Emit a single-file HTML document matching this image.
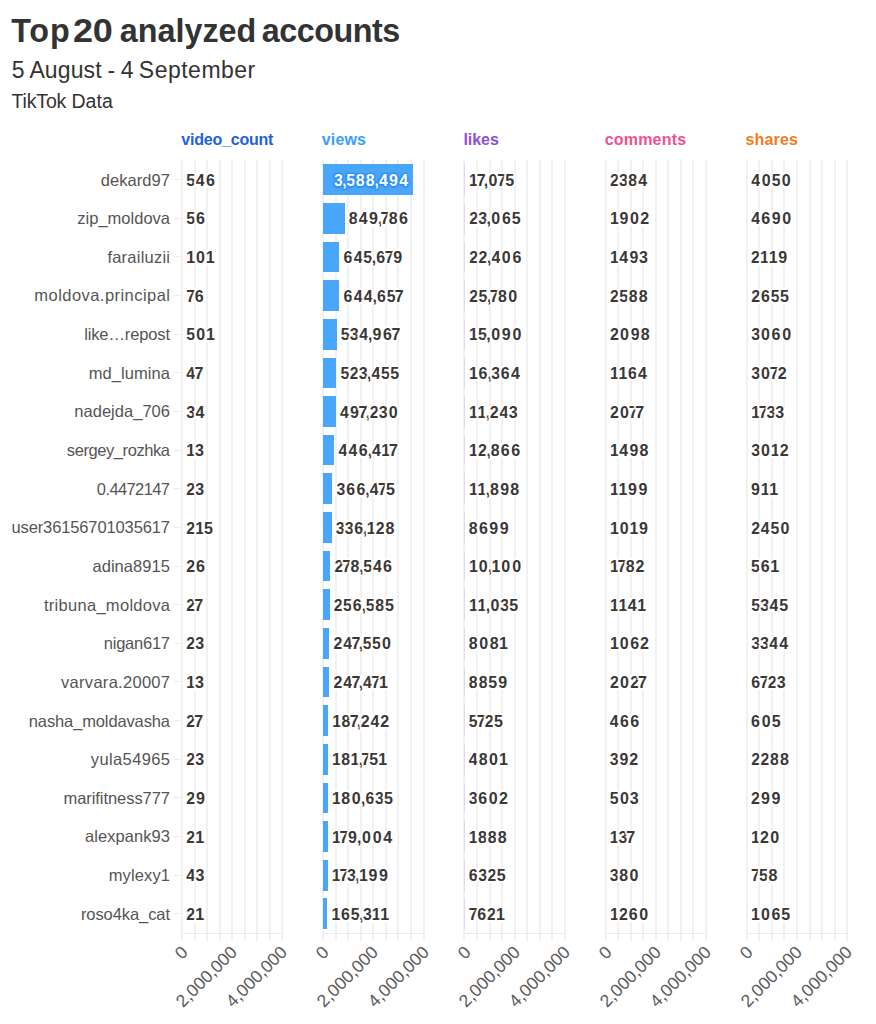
<!DOCTYPE html>
<html><head><meta charset="utf-8"><style>
html,body{margin:0;padding:0;background:#fff;}
body{width:876px;height:1024px;position:relative;overflow:hidden;font-family:"Liberation Sans",sans-serif;}
.a{position:absolute;white-space:nowrap;}
.t{top:13px;font-size:32.3px;font-weight:bold;color:#333;letter-spacing:-0.34px;line-height:36px;}
.s{top:57px;font-size:23px;color:#333;line-height:26px;}
.src{top:90.4px;font-size:19.5px;color:#333;line-height:22px;}
.h{font-size:16px;font-weight:bold;line-height:18px;}
.lab{font-size:16.5px;color:#555;line-height:20px;text-align:right;}
.v{font-size:16px;font-weight:bold;color:#383838;line-height:20px;text-shadow:2px 0 1px #fff,-2px 0 1px #fff,0 2px 1px #fff,0 -2px 1px #fff,1.5px 1.5px 1px #fff,-1.5px -1.5px 1px #fff,1.5px -1.5px 1px #fff,-1.5px 1.5px 1px #fff;}
.g{position:absolute;width:2px;background:#f1f1f1;}
.hl{position:absolute;height:1px;background:#ebebeb;}
.bar{position:absolute;}
.ax{font-size:17.5px;color:#5a5a5a;line-height:18px;transform-origin:100% 50%;transform:rotate(-45deg);}
</style></head><body>

<div class="a t" style="left:11.15px;letter-spacing:0.852px">Top</div>
<div class="a t" style="left:72.94px;transform-origin:0 50%;transform:scaleX(1.1150)">20</div>
<div class="a t" style="left:119.71px;letter-spacing:0.022px">analyzed</div>
<div class="a t" style="left:261.63px;letter-spacing:-0.454px">accounts</div>
<div class="a s" style="left:11.67px;letter-spacing:0.000px">5</div>
<div class="a s" style="left:29.40px;letter-spacing:0.122px">August</div>
<div class="a s" style="left:107.40px;letter-spacing:0.000px">-</div>
<div class="a s" style="left:120.76px;letter-spacing:0.000px">4</div>
<div class="a s" style="left:138.87px;letter-spacing:0.487px">September</div>
<div class="a src" style="left:11.54px;letter-spacing:-0.156px">TikTok</div>
<div class="a src" style="left:71.42px;letter-spacing:0.104px">Data</div>

<div class="a h" style="left:181.30px;top:130.8px;color:#1f5fe0;letter-spacing:-0.209px">video_count</div>
<div class="g" style="left:181.00px;top:160.0px;height:780.5px"></div>
<div class="g" style="left:193.54px;top:160.0px;height:780.5px"></div>
<div class="g" style="left:206.07px;top:160.0px;height:780.5px"></div>
<div class="g" style="left:218.61px;top:160.0px;height:780.5px"></div>
<div class="g" style="left:231.15px;top:160.0px;height:780.5px"></div>
<div class="g" style="left:243.69px;top:160.0px;height:780.5px"></div>
<div class="g" style="left:256.23px;top:160.0px;height:780.5px"></div>
<div class="g" style="left:268.76px;top:160.0px;height:780.5px"></div>
<div class="g" style="left:281.30px;top:160.0px;height:780.5px"></div>
<div class="hl" style="left:181.50px;top:932.6px;width:101.3px"></div>
<div class="a ax" style="right:691.1px;top:940.4px">0</div>
<div class="a ax" style="right:642.0px;top:940.4px">2,000,000</div>
<div class="a ax" style="right:591.8px;top:940.4px">4,000,000</div>
<div class="a h" style="left:321.78px;top:130.8px;color:#3d9ef5;letter-spacing:0.143px">views</div>
<div class="g" style="left:322.22px;top:160.0px;height:780.5px"></div>
<div class="g" style="left:334.76px;top:160.0px;height:780.5px"></div>
<div class="g" style="left:347.30px;top:160.0px;height:780.5px"></div>
<div class="g" style="left:359.83px;top:160.0px;height:780.5px"></div>
<div class="g" style="left:372.37px;top:160.0px;height:780.5px"></div>
<div class="g" style="left:384.91px;top:160.0px;height:780.5px"></div>
<div class="g" style="left:397.45px;top:160.0px;height:780.5px"></div>
<div class="g" style="left:409.98px;top:160.0px;height:780.5px"></div>
<div class="g" style="left:422.52px;top:160.0px;height:780.5px"></div>
<div class="hl" style="left:322.72px;top:932.6px;width:101.3px"></div>
<div class="a ax" style="right:549.9px;top:940.4px">0</div>
<div class="a ax" style="right:500.7px;top:940.4px">2,000,000</div>
<div class="a ax" style="right:450.6px;top:940.4px">4,000,000</div>
<div class="a h" style="left:463.38px;top:130.8px;color:#8e4fd8;letter-spacing:-0.023px">likes</div>
<div class="g" style="left:463.44px;top:160.0px;height:780.5px"></div>
<div class="g" style="left:475.98px;top:160.0px;height:780.5px"></div>
<div class="g" style="left:488.51px;top:160.0px;height:780.5px"></div>
<div class="g" style="left:501.05px;top:160.0px;height:780.5px"></div>
<div class="g" style="left:513.59px;top:160.0px;height:780.5px"></div>
<div class="g" style="left:526.13px;top:160.0px;height:780.5px"></div>
<div class="g" style="left:538.66px;top:160.0px;height:780.5px"></div>
<div class="g" style="left:551.20px;top:160.0px;height:780.5px"></div>
<div class="g" style="left:563.74px;top:160.0px;height:780.5px"></div>
<div class="hl" style="left:463.94px;top:932.6px;width:101.3px"></div>
<div class="a ax" style="right:408.7px;top:940.4px">0</div>
<div class="a ax" style="right:359.5px;top:940.4px">2,000,000</div>
<div class="a ax" style="right:309.4px;top:940.4px">4,000,000</div>
<div class="a h" style="left:604.70px;top:130.8px;color:#f0528f;letter-spacing:0.196px">comments</div>
<div class="g" style="left:604.66px;top:160.0px;height:780.5px"></div>
<div class="g" style="left:617.20px;top:160.0px;height:780.5px"></div>
<div class="g" style="left:629.74px;top:160.0px;height:780.5px"></div>
<div class="g" style="left:642.27px;top:160.0px;height:780.5px"></div>
<div class="g" style="left:654.81px;top:160.0px;height:780.5px"></div>
<div class="g" style="left:667.35px;top:160.0px;height:780.5px"></div>
<div class="g" style="left:679.88px;top:160.0px;height:780.5px"></div>
<div class="g" style="left:692.42px;top:160.0px;height:780.5px"></div>
<div class="g" style="left:704.96px;top:160.0px;height:780.5px"></div>
<div class="hl" style="left:605.16px;top:932.6px;width:101.3px"></div>
<div class="a ax" style="right:267.4px;top:940.4px">0</div>
<div class="a ax" style="right:218.3px;top:940.4px">2,000,000</div>
<div class="a ax" style="right:168.1px;top:940.4px">4,000,000</div>
<div class="a h" style="left:745.45px;top:130.8px;color:#f47b20;letter-spacing:0.178px">shares</div>
<div class="g" style="left:745.88px;top:160.0px;height:780.5px"></div>
<div class="g" style="left:758.42px;top:160.0px;height:780.5px"></div>
<div class="g" style="left:770.96px;top:160.0px;height:780.5px"></div>
<div class="g" style="left:783.49px;top:160.0px;height:780.5px"></div>
<div class="g" style="left:796.03px;top:160.0px;height:780.5px"></div>
<div class="g" style="left:808.57px;top:160.0px;height:780.5px"></div>
<div class="g" style="left:821.11px;top:160.0px;height:780.5px"></div>
<div class="g" style="left:833.64px;top:160.0px;height:780.5px"></div>
<div class="g" style="left:846.18px;top:160.0px;height:780.5px"></div>
<div class="hl" style="left:746.38px;top:932.6px;width:101.3px"></div>
<div class="a ax" style="right:126.2px;top:940.4px">0</div>
<div class="a ax" style="right:77.1px;top:940.4px">2,000,000</div>
<div class="a ax" style="right:26.9px;top:940.4px">4,000,000</div>
<div class="a lab" style="right:705.95px;top:169.57px;letter-spacing:0.050px">dekard97</div>
<div class="hl" style="left:174.0px;top:179.17px;width:6.5px"></div>
<div class="a v" style="left:186.04px;top:170.77px"><span style="margin:0 0.17px">5</span><span style="margin:0 0.56px">4</span><span style="margin:0 0.70px">6</span></div>
<div class="bar" style="left:323.22px;top:164.32px;width:89.98px;height:30.7px;background:#4aa6fb"></div>
<div class="a v" style="right:467.24px;top:170.77px;color:#fff;text-shadow:1.5px 0 1px #2f91f2,-1.5px 0 1px #2f91f2,0 1.5px 1px #2f91f2,0 -1.5px 1px #2f91f2,1px 1px 1px #2f91f2,-1px -1px 1px #2f91f2,1px -1px 1px #2f91f2,-1px 1px 1px #2f91f2"><span style="margin:0 -0.07px">3</span><span style="margin:0 -0.65px">,</span><span style="margin:0 0.17px">5</span><span style="margin:0 0.50px">8</span><span style="margin:0 0.50px">8</span><span style="margin:0 -0.65px">,</span><span style="margin:0 0.56px">4</span><span style="margin:0 0.77px">9</span><span style="margin:0 0.56px">4</span></div>
<div class="bar" style="left:464.44px;top:164.32px;width:1.00px;height:30.7px;background:#e2d6f5"></div>
<div class="a v" style="left:469.22px;top:170.77px"><span style="margin:0 -0.15px">1</span><span style="margin:0 -1.17px">7</span><span style="margin:0 -0.65px">,</span><span style="margin:0 1.01px">0</span><span style="margin:0 -1.17px">7</span><span style="margin:0 0.17px">5</span></div>
<div class="a v" style="left:609.69px;top:170.77px"><span style="margin:0 0.23px">2</span><span style="margin:0 -0.07px">3</span><span style="margin:0 0.50px">8</span><span style="margin:0 0.56px">4</span></div>
<div class="a v" style="left:750.63px;top:170.77px"><span style="margin:0 0.56px">4</span><span style="margin:0 1.01px">0</span><span style="margin:0 0.17px">5</span><span style="margin:0 1.01px">0</span></div>
<div class="a lab" style="right:706.00px;top:208.21px;letter-spacing:0.001px">zip_moldova</div>
<div class="hl" style="left:174.0px;top:217.81px;width:6.5px"></div>
<div class="a v" style="left:186.03px;top:209.41px"><span style="margin:0 0.17px">5</span><span style="margin:0 0.70px">6</span></div>
<div class="bar" style="left:323.22px;top:202.96px;width:21.31px;height:30.7px;background:#4aa6fb"></div>
<div class="a v" style="left:348.23px;top:209.41px"><span style="margin:0 0.50px">8</span><span style="margin:0 0.56px">4</span><span style="margin:0 0.77px">9</span><span style="margin:0 -0.65px">,</span><span style="margin:0 -1.17px">7</span><span style="margin:0 0.50px">8</span><span style="margin:0 0.70px">6</span></div>
<div class="bar" style="left:464.44px;top:202.96px;width:1.00px;height:30.7px;background:#e2d6f5"></div>
<div class="a v" style="left:468.99px;top:209.41px"><span style="margin:0 0.23px">2</span><span style="margin:0 -0.07px">3</span><span style="margin:0 -0.65px">,</span><span style="margin:0 1.01px">0</span><span style="margin:0 0.70px">6</span><span style="margin:0 0.17px">5</span></div>
<div class="a v" style="left:610.06px;top:209.41px"><span style="margin:0 -0.15px">1</span><span style="margin:0 0.77px">9</span><span style="margin:0 1.01px">0</span><span style="margin:0 0.23px">2</span></div>
<div class="a v" style="left:750.64px;top:209.41px"><span style="margin:0 0.56px">4</span><span style="margin:0 0.70px">6</span><span style="margin:0 0.77px">9</span><span style="margin:0 1.01px">0</span></div>
<div class="a lab" style="right:705.76px;top:246.85px;letter-spacing:0.235px">farailuzii</div>
<div class="hl" style="left:174.0px;top:256.45px;width:6.5px"></div>
<div class="a v" style="left:186.35px;top:248.05px"><span style="margin:0 -0.15px">1</span><span style="margin:0 1.01px">0</span><span style="margin:0 -0.15px">1</span></div>
<div class="bar" style="left:323.22px;top:241.60px;width:16.19px;height:30.7px;background:#4aa6fb"></div>
<div class="a v" style="left:342.91px;top:248.05px"><span style="margin:0 0.70px">6</span><span style="margin:0 0.56px">4</span><span style="margin:0 0.17px">5</span><span style="margin:0 -0.65px">,</span><span style="margin:0 0.70px">6</span><span style="margin:0 -1.17px">7</span><span style="margin:0 0.77px">9</span></div>
<div class="bar" style="left:464.44px;top:241.60px;width:1.00px;height:30.7px;background:#e2d6f5"></div>
<div class="a v" style="left:468.97px;top:248.05px"><span style="margin:0 0.23px">2</span><span style="margin:0 0.23px">2</span><span style="margin:0 -0.65px">,</span><span style="margin:0 0.56px">4</span><span style="margin:0 1.01px">0</span><span style="margin:0 0.70px">6</span></div>
<div class="a v" style="left:610.05px;top:248.05px"><span style="margin:0 -0.15px">1</span><span style="margin:0 0.56px">4</span><span style="margin:0 0.77px">9</span><span style="margin:0 -0.07px">3</span></div>
<div class="a v" style="left:750.90px;top:248.05px"><span style="margin:0 0.23px">2</span><span style="margin:0 -0.15px">1</span><span style="margin:0 -0.15px">1</span><span style="margin:0 0.77px">9</span></div>
<div class="a lab" style="right:705.55px;top:285.49px;letter-spacing:0.454px">moldova.principal</div>
<div class="hl" style="left:174.0px;top:295.09px;width:6.5px"></div>
<div class="a v" style="left:187.37px;top:286.69px"><span style="margin:0 -1.17px">7</span><span style="margin:0 0.70px">6</span></div>
<div class="bar" style="left:323.22px;top:280.24px;width:16.16px;height:30.7px;background:#4aa6fb"></div>
<div class="a v" style="left:342.88px;top:286.69px"><span style="margin:0 0.70px">6</span><span style="margin:0 0.56px">4</span><span style="margin:0 0.56px">4</span><span style="margin:0 -0.65px">,</span><span style="margin:0 0.70px">6</span><span style="margin:0 0.17px">5</span><span style="margin:0 -1.17px">7</span></div>
<div class="bar" style="left:464.44px;top:280.24px;width:1.00px;height:30.7px;background:#e2d6f5"></div>
<div class="a v" style="left:469.06px;top:286.69px"><span style="margin:0 0.23px">2</span><span style="margin:0 0.17px">5</span><span style="margin:0 -0.65px">,</span><span style="margin:0 -1.17px">7</span><span style="margin:0 0.50px">8</span><span style="margin:0 1.01px">0</span></div>
<div class="a v" style="left:609.69px;top:286.69px"><span style="margin:0 0.23px">2</span><span style="margin:0 0.17px">5</span><span style="margin:0 0.50px">8</span><span style="margin:0 0.50px">8</span></div>
<div class="a v" style="left:750.92px;top:286.69px"><span style="margin:0 0.23px">2</span><span style="margin:0 0.70px">6</span><span style="margin:0 0.17px">5</span><span style="margin:0 0.17px">5</span></div>
<div class="a lab" style="right:706.12px;top:324.13px;letter-spacing:-0.123px">like…repost</div>
<div class="hl" style="left:174.0px;top:333.73px;width:6.5px"></div>
<div class="a v" style="left:186.04px;top:325.33px"><span style="margin:0 0.17px">5</span><span style="margin:0 1.01px">0</span><span style="margin:0 -0.15px">1</span></div>
<div class="bar" style="left:323.22px;top:318.88px;width:13.41px;height:30.7px;background:#4aa6fb"></div>
<div class="a v" style="left:340.66px;top:325.33px"><span style="margin:0 0.17px">5</span><span style="margin:0 -0.07px">3</span><span style="margin:0 0.56px">4</span><span style="margin:0 -0.65px">,</span><span style="margin:0 0.77px">9</span><span style="margin:0 0.70px">6</span><span style="margin:0 -1.17px">7</span></div>
<div class="bar" style="left:464.44px;top:318.88px;width:1.00px;height:30.7px;background:#e2d6f5"></div>
<div class="a v" style="left:469.17px;top:325.33px"><span style="margin:0 -0.15px">1</span><span style="margin:0 0.17px">5</span><span style="margin:0 -0.65px">,</span><span style="margin:0 1.01px">0</span><span style="margin:0 0.77px">9</span><span style="margin:0 1.01px">0</span></div>
<div class="a v" style="left:609.68px;top:325.33px"><span style="margin:0 0.23px">2</span><span style="margin:0 1.01px">0</span><span style="margin:0 0.77px">9</span><span style="margin:0 0.50px">8</span></div>
<div class="a v" style="left:751.22px;top:325.33px"><span style="margin:0 -0.07px">3</span><span style="margin:0 1.01px">0</span><span style="margin:0 0.70px">6</span><span style="margin:0 1.01px">0</span></div>
<div class="a lab" style="right:705.92px;top:362.77px;letter-spacing:0.080px">md_lumina</div>
<div class="hl" style="left:174.0px;top:372.37px;width:6.5px"></div>
<div class="a v" style="left:185.65px;top:363.97px"><span style="margin:0 0.56px">4</span><span style="margin:0 -1.17px">7</span></div>
<div class="bar" style="left:323.22px;top:357.52px;width:13.13px;height:30.7px;background:#4aa6fb"></div>
<div class="a v" style="left:340.37px;top:363.97px"><span style="margin:0 0.17px">5</span><span style="margin:0 0.23px">2</span><span style="margin:0 -0.07px">3</span><span style="margin:0 -0.65px">,</span><span style="margin:0 0.56px">4</span><span style="margin:0 0.17px">5</span><span style="margin:0 0.17px">5</span></div>
<div class="bar" style="left:464.44px;top:357.52px;width:1.00px;height:30.7px;background:#e2d6f5"></div>
<div class="a v" style="left:469.20px;top:363.97px"><span style="margin:0 -0.15px">1</span><span style="margin:0 0.70px">6</span><span style="margin:0 -0.65px">,</span><span style="margin:0 -0.07px">3</span><span style="margin:0 0.70px">6</span><span style="margin:0 0.56px">4</span></div>
<div class="a v" style="left:610.04px;top:363.97px"><span style="margin:0 -0.15px">1</span><span style="margin:0 -0.15px">1</span><span style="margin:0 0.70px">6</span><span style="margin:0 0.56px">4</span></div>
<div class="a v" style="left:751.22px;top:363.97px"><span style="margin:0 -0.07px">3</span><span style="margin:0 1.01px">0</span><span style="margin:0 -1.17px">7</span><span style="margin:0 0.23px">2</span></div>
<div class="a lab" style="right:705.97px;top:401.41px;letter-spacing:0.026px">nadejda_706</div>
<div class="hl" style="left:174.0px;top:411.01px;width:6.5px"></div>
<div class="a v" style="left:186.27px;top:402.61px"><span style="margin:0 -0.07px">3</span><span style="margin:0 0.56px">4</span></div>
<div class="bar" style="left:323.22px;top:396.16px;width:12.47px;height:30.7px;background:#4aa6fb"></div>
<div class="a v" style="left:339.33px;top:402.61px"><span style="margin:0 0.56px">4</span><span style="margin:0 0.77px">9</span><span style="margin:0 -1.17px">7</span><span style="margin:0 -0.65px">,</span><span style="margin:0 0.23px">2</span><span style="margin:0 -0.07px">3</span><span style="margin:0 1.01px">0</span></div>
<div class="bar" style="left:464.44px;top:396.16px;width:1.00px;height:30.7px;background:#e2d6f5"></div>
<div class="a v" style="left:469.07px;top:402.61px"><span style="margin:0 -0.15px">1</span><span style="margin:0 -0.15px">1</span><span style="margin:0 -0.65px">,</span><span style="margin:0 0.23px">2</span><span style="margin:0 0.56px">4</span><span style="margin:0 -0.07px">3</span></div>
<div class="a v" style="left:609.68px;top:402.61px"><span style="margin:0 0.23px">2</span><span style="margin:0 1.01px">0</span><span style="margin:0 -1.17px">7</span><span style="margin:0 -1.17px">7</span></div>
<div class="a v" style="left:751.27px;top:402.61px"><span style="margin:0 -0.15px">1</span><span style="margin:0 -1.17px">7</span><span style="margin:0 -0.07px">3</span><span style="margin:0 -0.07px">3</span></div>
<div class="a lab" style="right:706.42px;top:440.05px;letter-spacing:-0.420px">sergey_rozhka</div>
<div class="hl" style="left:174.0px;top:449.65px;width:6.5px"></div>
<div class="a v" style="left:186.35px;top:441.25px"><span style="margin:0 -0.15px">1</span><span style="margin:0 -0.07px">3</span></div>
<div class="bar" style="left:323.22px;top:434.80px;width:11.19px;height:30.7px;background:#4aa6fb"></div>
<div class="a v" style="left:338.06px;top:441.25px"><span style="margin:0 0.56px">4</span><span style="margin:0 0.56px">4</span><span style="margin:0 0.70px">6</span><span style="margin:0 -0.65px">,</span><span style="margin:0 0.56px">4</span><span style="margin:0 -0.15px">1</span><span style="margin:0 -1.17px">7</span></div>
<div class="bar" style="left:464.44px;top:434.80px;width:1.00px;height:30.7px;background:#e2d6f5"></div>
<div class="a v" style="left:469.11px;top:441.25px"><span style="margin:0 -0.15px">1</span><span style="margin:0 0.23px">2</span><span style="margin:0 -0.65px">,</span><span style="margin:0 0.50px">8</span><span style="margin:0 0.70px">6</span><span style="margin:0 0.70px">6</span></div>
<div class="a v" style="left:610.05px;top:441.25px"><span style="margin:0 -0.15px">1</span><span style="margin:0 0.56px">4</span><span style="margin:0 0.77px">9</span><span style="margin:0 0.50px">8</span></div>
<div class="a v" style="left:751.22px;top:441.25px"><span style="margin:0 -0.07px">3</span><span style="margin:0 1.01px">0</span><span style="margin:0 -0.15px">1</span><span style="margin:0 0.23px">2</span></div>
<div class="a lab" style="right:706.60px;top:478.69px;letter-spacing:-0.604px">0.4472147</div>
<div class="hl" style="left:174.0px;top:488.29px;width:6.5px"></div>
<div class="a v" style="left:185.97px;top:479.89px"><span style="margin:0 0.23px">2</span><span style="margin:0 -0.07px">3</span></div>
<div class="bar" style="left:323.22px;top:473.44px;width:9.19px;height:30.7px;background:#4aa6fb"></div>
<div class="a v" style="left:336.67px;top:479.89px"><span style="margin:0 -0.07px">3</span><span style="margin:0 0.70px">6</span><span style="margin:0 0.70px">6</span><span style="margin:0 -0.65px">,</span><span style="margin:0 0.56px">4</span><span style="margin:0 -1.17px">7</span><span style="margin:0 0.17px">5</span></div>
<div class="bar" style="left:464.44px;top:473.44px;width:1.00px;height:30.7px;background:#e2d6f5"></div>
<div class="a v" style="left:469.09px;top:479.89px"><span style="margin:0 -0.15px">1</span><span style="margin:0 -0.15px">1</span><span style="margin:0 -0.65px">,</span><span style="margin:0 0.50px">8</span><span style="margin:0 0.77px">9</span><span style="margin:0 0.50px">8</span></div>
<div class="a v" style="left:610.04px;top:479.89px"><span style="margin:0 -0.15px">1</span><span style="margin:0 -0.15px">1</span><span style="margin:0 0.77px">9</span><span style="margin:0 0.77px">9</span></div>
<div class="a v" style="left:750.33px;top:479.89px"><span style="margin:0 0.77px">9</span><span style="margin:0 -0.15px">1</span><span style="margin:0 -0.15px">1</span></div>
<div class="a lab" style="right:706.12px;top:517.33px;letter-spacing:-0.120px">user36156701035617</div>
<div class="hl" style="left:174.0px;top:526.93px;width:6.5px"></div>
<div class="a v" style="left:185.98px;top:518.53px"><span style="margin:0 0.23px">2</span><span style="margin:0 -0.15px">1</span><span style="margin:0 0.17px">5</span></div>
<div class="bar" style="left:323.22px;top:512.08px;width:8.43px;height:30.7px;background:#4aa6fb"></div>
<div class="a v" style="left:335.91px;top:518.53px"><span style="margin:0 -0.07px">3</span><span style="margin:0 -0.07px">3</span><span style="margin:0 0.70px">6</span><span style="margin:0 -0.65px">,</span><span style="margin:0 -0.15px">1</span><span style="margin:0 0.23px">2</span><span style="margin:0 0.50px">8</span></div>
<div class="bar" style="left:464.44px;top:512.08px;width:1.00px;height:30.7px;background:#e2d6f5"></div>
<div class="a v" style="left:468.36px;top:518.53px"><span style="margin:0 0.50px">8</span><span style="margin:0 0.70px">6</span><span style="margin:0 0.77px">9</span><span style="margin:0 0.77px">9</span></div>
<div class="a v" style="left:610.04px;top:518.53px"><span style="margin:0 -0.15px">1</span><span style="margin:0 1.01px">0</span><span style="margin:0 -0.15px">1</span><span style="margin:0 0.77px">9</span></div>
<div class="a v" style="left:750.91px;top:518.53px"><span style="margin:0 0.23px">2</span><span style="margin:0 0.56px">4</span><span style="margin:0 0.17px">5</span><span style="margin:0 1.01px">0</span></div>
<div class="a lab" style="right:705.93px;top:555.97px;letter-spacing:0.067px">adina8915</div>
<div class="hl" style="left:174.0px;top:565.57px;width:6.5px"></div>
<div class="a v" style="left:185.97px;top:557.17px"><span style="margin:0 0.23px">2</span><span style="margin:0 0.70px">6</span></div>
<div class="bar" style="left:323.22px;top:550.72px;width:6.98px;height:30.7px;background:#4aa6fb"></div>
<div class="a v" style="left:334.17px;top:557.17px"><span style="margin:0 0.23px">2</span><span style="margin:0 -1.17px">7</span><span style="margin:0 0.50px">8</span><span style="margin:0 -0.65px">,</span><span style="margin:0 0.17px">5</span><span style="margin:0 0.56px">4</span><span style="margin:0 0.70px">6</span></div>
<div class="bar" style="left:464.44px;top:550.72px;width:1.00px;height:30.7px;background:#e2d6f5"></div>
<div class="a v" style="left:469.04px;top:557.17px"><span style="margin:0 -0.15px">1</span><span style="margin:0 1.01px">0</span><span style="margin:0 -0.65px">,</span><span style="margin:0 -0.15px">1</span><span style="margin:0 1.01px">0</span><span style="margin:0 1.01px">0</span></div>
<div class="a v" style="left:610.05px;top:557.17px"><span style="margin:0 -0.15px">1</span><span style="margin:0 -1.17px">7</span><span style="margin:0 0.50px">8</span><span style="margin:0 0.23px">2</span></div>
<div class="a v" style="left:750.92px;top:557.17px"><span style="margin:0 0.17px">5</span><span style="margin:0 0.70px">6</span><span style="margin:0 -0.15px">1</span></div>
<div class="a lab" style="right:705.70px;top:594.61px;letter-spacing:0.296px">tribuna_moldova</div>
<div class="hl" style="left:174.0px;top:604.21px;width:6.5px"></div>
<div class="a v" style="left:185.97px;top:595.81px"><span style="margin:0 0.23px">2</span><span style="margin:0 -1.17px">7</span></div>
<div class="bar" style="left:323.22px;top:589.36px;width:6.43px;height:30.7px;background:#4aa6fb"></div>
<div class="a v" style="left:333.62px;top:595.81px"><span style="margin:0 0.23px">2</span><span style="margin:0 0.17px">5</span><span style="margin:0 0.70px">6</span><span style="margin:0 -0.65px">,</span><span style="margin:0 0.17px">5</span><span style="margin:0 0.50px">8</span><span style="margin:0 0.17px">5</span></div>
<div class="bar" style="left:464.44px;top:589.36px;width:1.00px;height:30.7px;background:#e2d6f5"></div>
<div class="a v" style="left:469.07px;top:595.81px"><span style="margin:0 -0.15px">1</span><span style="margin:0 -0.15px">1</span><span style="margin:0 -0.65px">,</span><span style="margin:0 1.01px">0</span><span style="margin:0 -0.07px">3</span><span style="margin:0 0.17px">5</span></div>
<div class="a v" style="left:610.04px;top:595.81px"><span style="margin:0 -0.15px">1</span><span style="margin:0 -0.15px">1</span><span style="margin:0 0.56px">4</span><span style="margin:0 -0.15px">1</span></div>
<div class="a v" style="left:751.04px;top:595.81px"><span style="margin:0 0.17px">5</span><span style="margin:0 -0.07px">3</span><span style="margin:0 0.56px">4</span><span style="margin:0 0.17px">5</span></div>
<div class="a lab" style="right:706.25px;top:633.25px;letter-spacing:-0.250px">nigan617</div>
<div class="hl" style="left:174.0px;top:642.85px;width:6.5px"></div>
<div class="a v" style="left:185.97px;top:634.45px"><span style="margin:0 0.23px">2</span><span style="margin:0 -0.07px">3</span></div>
<div class="bar" style="left:323.22px;top:628.00px;width:6.21px;height:30.7px;background:#4aa6fb"></div>
<div class="a v" style="left:333.40px;top:634.45px"><span style="margin:0 0.23px">2</span><span style="margin:0 0.56px">4</span><span style="margin:0 -1.17px">7</span><span style="margin:0 -0.65px">,</span><span style="margin:0 0.17px">5</span><span style="margin:0 0.17px">5</span><span style="margin:0 1.01px">0</span></div>
<div class="bar" style="left:464.44px;top:628.00px;width:1.00px;height:30.7px;background:#e2d6f5"></div>
<div class="a v" style="left:468.34px;top:634.45px"><span style="margin:0 0.50px">8</span><span style="margin:0 1.01px">0</span><span style="margin:0 0.50px">8</span><span style="margin:0 -0.15px">1</span></div>
<div class="a v" style="left:610.04px;top:634.45px"><span style="margin:0 -0.15px">1</span><span style="margin:0 1.01px">0</span><span style="margin:0 0.70px">6</span><span style="margin:0 0.23px">2</span></div>
<div class="a v" style="left:751.23px;top:634.45px"><span style="margin:0 -0.07px">3</span><span style="margin:0 -0.07px">3</span><span style="margin:0 0.56px">4</span><span style="margin:0 0.56px">4</span></div>
<div class="a lab" style="right:705.72px;top:671.89px;letter-spacing:0.285px">varvara.20007</div>
<div class="hl" style="left:174.0px;top:681.49px;width:6.5px"></div>
<div class="a v" style="left:186.35px;top:673.09px"><span style="margin:0 -0.15px">1</span><span style="margin:0 -0.07px">3</span></div>
<div class="bar" style="left:323.22px;top:666.64px;width:6.21px;height:30.7px;background:#4aa6fb"></div>
<div class="a v" style="left:333.40px;top:673.09px"><span style="margin:0 0.23px">2</span><span style="margin:0 0.56px">4</span><span style="margin:0 -1.17px">7</span><span style="margin:0 -0.65px">,</span><span style="margin:0 0.56px">4</span><span style="margin:0 -1.17px">7</span><span style="margin:0 -0.15px">1</span></div>
<div class="bar" style="left:464.44px;top:666.64px;width:1.00px;height:30.7px;background:#e2d6f5"></div>
<div class="a v" style="left:468.36px;top:673.09px"><span style="margin:0 0.50px">8</span><span style="margin:0 0.50px">8</span><span style="margin:0 0.17px">5</span><span style="margin:0 0.77px">9</span></div>
<div class="a v" style="left:609.68px;top:673.09px"><span style="margin:0 0.23px">2</span><span style="margin:0 1.01px">0</span><span style="margin:0 0.23px">2</span><span style="margin:0 -1.17px">7</span></div>
<div class="a v" style="left:750.55px;top:673.09px"><span style="margin:0 0.70px">6</span><span style="margin:0 -1.17px">7</span><span style="margin:0 0.23px">2</span><span style="margin:0 -0.07px">3</span></div>
<div class="a lab" style="right:706.13px;top:710.53px;letter-spacing:-0.128px">nasha_moldavasha</div>
<div class="hl" style="left:174.0px;top:720.13px;width:6.5px"></div>
<div class="a v" style="left:185.97px;top:711.73px"><span style="margin:0 0.23px">2</span><span style="margin:0 -1.17px">7</span></div>
<div class="bar" style="left:323.22px;top:705.28px;width:4.70px;height:30.7px;background:#4aa6fb"></div>
<div class="a v" style="left:332.27px;top:711.73px"><span style="margin:0 -0.15px">1</span><span style="margin:0 0.50px">8</span><span style="margin:0 -1.17px">7</span><span style="margin:0 -0.65px">,</span><span style="margin:0 0.23px">2</span><span style="margin:0 0.56px">4</span><span style="margin:0 0.23px">2</span></div>
<div class="bar" style="left:464.44px;top:705.28px;width:1.00px;height:30.7px;background:#e2d6f5"></div>
<div class="a v" style="left:468.61px;top:711.73px"><span style="margin:0 0.17px">5</span><span style="margin:0 -1.17px">7</span><span style="margin:0 0.23px">2</span><span style="margin:0 0.17px">5</span></div>
<div class="a v" style="left:609.32px;top:711.73px"><span style="margin:0 0.56px">4</span><span style="margin:0 0.70px">6</span><span style="margin:0 0.70px">6</span></div>
<div class="a v" style="left:750.40px;top:711.73px"><span style="margin:0 0.70px">6</span><span style="margin:0 1.01px">0</span><span style="margin:0 0.17px">5</span></div>
<div class="a lab" style="right:705.62px;top:749.17px;letter-spacing:0.381px">yula54965</div>
<div class="hl" style="left:174.0px;top:758.77px;width:6.5px"></div>
<div class="a v" style="left:185.97px;top:750.37px"><span style="margin:0 0.23px">2</span><span style="margin:0 -0.07px">3</span></div>
<div class="bar" style="left:323.22px;top:743.92px;width:4.56px;height:30.7px;background:#4aa6fb"></div>
<div class="a v" style="left:332.13px;top:750.37px"><span style="margin:0 -0.15px">1</span><span style="margin:0 0.50px">8</span><span style="margin:0 -0.15px">1</span><span style="margin:0 -0.65px">,</span><span style="margin:0 -1.17px">7</span><span style="margin:0 0.17px">5</span><span style="margin:0 -0.15px">1</span></div>
<div class="bar" style="left:464.44px;top:743.92px;width:1.00px;height:30.7px;background:#e2d6f5"></div>
<div class="a v" style="left:468.21px;top:750.37px"><span style="margin:0 0.56px">4</span><span style="margin:0 0.50px">8</span><span style="margin:0 1.01px">0</span><span style="margin:0 -0.15px">1</span></div>
<div class="a v" style="left:609.93px;top:750.37px"><span style="margin:0 -0.07px">3</span><span style="margin:0 0.77px">9</span><span style="margin:0 0.23px">2</span></div>
<div class="a v" style="left:750.91px;top:750.37px"><span style="margin:0 0.23px">2</span><span style="margin:0 0.23px">2</span><span style="margin:0 0.50px">8</span><span style="margin:0 0.50px">8</span></div>
<div class="a lab" style="right:706.06px;top:787.81px;letter-spacing:-0.059px">marifitness777</div>
<div class="hl" style="left:174.0px;top:797.41px;width:6.5px"></div>
<div class="a v" style="left:185.97px;top:789.01px"><span style="margin:0 0.23px">2</span><span style="margin:0 0.77px">9</span></div>
<div class="bar" style="left:323.22px;top:782.56px;width:4.53px;height:30.7px;background:#4aa6fb"></div>
<div class="a v" style="left:332.10px;top:789.01px"><span style="margin:0 -0.15px">1</span><span style="margin:0 0.50px">8</span><span style="margin:0 1.01px">0</span><span style="margin:0 -0.65px">,</span><span style="margin:0 0.70px">6</span><span style="margin:0 -0.07px">3</span><span style="margin:0 0.17px">5</span></div>
<div class="bar" style="left:464.44px;top:782.56px;width:1.00px;height:30.7px;background:#e2d6f5"></div>
<div class="a v" style="left:468.80px;top:789.01px"><span style="margin:0 -0.07px">3</span><span style="margin:0 0.70px">6</span><span style="margin:0 1.01px">0</span><span style="margin:0 0.23px">2</span></div>
<div class="a v" style="left:609.70px;top:789.01px"><span style="margin:0 0.17px">5</span><span style="margin:0 1.01px">0</span><span style="margin:0 -0.07px">3</span></div>
<div class="a v" style="left:750.86px;top:789.01px"><span style="margin:0 0.23px">2</span><span style="margin:0 0.77px">9</span><span style="margin:0 0.77px">9</span></div>
<div class="a lab" style="right:705.93px;top:826.45px;letter-spacing:0.069px">alexpank93</div>
<div class="hl" style="left:174.0px;top:836.05px;width:6.5px"></div>
<div class="a v" style="left:185.97px;top:827.65px"><span style="margin:0 0.23px">2</span><span style="margin:0 -0.15px">1</span></div>
<div class="bar" style="left:323.22px;top:821.20px;width:4.49px;height:30.7px;background:#4aa6fb"></div>
<div class="a v" style="left:332.06px;top:827.65px"><span style="margin:0 -0.15px">1</span><span style="margin:0 -1.17px">7</span><span style="margin:0 0.77px">9</span><span style="margin:0 -0.65px">,</span><span style="margin:0 1.01px">0</span><span style="margin:0 1.01px">0</span><span style="margin:0 0.56px">4</span></div>
<div class="bar" style="left:464.44px;top:821.20px;width:1.00px;height:30.7px;background:#e2d6f5"></div>
<div class="a v" style="left:468.84px;top:827.65px"><span style="margin:0 -0.15px">1</span><span style="margin:0 0.50px">8</span><span style="margin:0 0.50px">8</span><span style="margin:0 0.50px">8</span></div>
<div class="a v" style="left:610.01px;top:827.65px"><span style="margin:0 -0.15px">1</span><span style="margin:0 -0.07px">3</span><span style="margin:0 -1.17px">7</span></div>
<div class="a v" style="left:751.23px;top:827.65px"><span style="margin:0 -0.15px">1</span><span style="margin:0 0.23px">2</span><span style="margin:0 1.01px">0</span></div>
<div class="a lab" style="right:705.85px;top:865.09px;letter-spacing:0.145px">mylexy1</div>
<div class="hl" style="left:174.0px;top:874.69px;width:6.5px"></div>
<div class="a v" style="left:185.65px;top:866.29px"><span style="margin:0 0.56px">4</span><span style="margin:0 -0.07px">3</span></div>
<div class="bar" style="left:323.22px;top:859.84px;width:4.34px;height:30.7px;background:#4aa6fb"></div>
<div class="a v" style="left:331.91px;top:866.29px"><span style="margin:0 -0.15px">1</span><span style="margin:0 -1.17px">7</span><span style="margin:0 -0.07px">3</span><span style="margin:0 -0.65px">,</span><span style="margin:0 -0.15px">1</span><span style="margin:0 0.77px">9</span><span style="margin:0 0.77px">9</span></div>
<div class="bar" style="left:464.44px;top:859.84px;width:1.00px;height:30.7px;background:#e2d6f5"></div>
<div class="a v" style="left:468.10px;top:866.29px"><span style="margin:0 0.70px">6</span><span style="margin:0 -0.07px">3</span><span style="margin:0 0.23px">2</span><span style="margin:0 0.17px">5</span></div>
<div class="a v" style="left:609.93px;top:866.29px"><span style="margin:0 -0.07px">3</span><span style="margin:0 0.50px">8</span><span style="margin:0 1.01px">0</span></div>
<div class="a v" style="left:752.27px;top:866.29px"><span style="margin:0 -1.17px">7</span><span style="margin:0 0.17px">5</span><span style="margin:0 0.50px">8</span></div>
<div class="a lab" style="right:706.08px;top:903.73px;letter-spacing:-0.083px">roso4ka_cat</div>
<div class="hl" style="left:174.0px;top:913.33px;width:6.5px"></div>
<div class="a v" style="left:185.97px;top:904.93px"><span style="margin:0 0.23px">2</span><span style="margin:0 -0.15px">1</span></div>
<div class="bar" style="left:323.22px;top:898.48px;width:4.15px;height:30.7px;background:#4aa6fb"></div>
<div class="a v" style="left:331.72px;top:904.93px"><span style="margin:0 -0.15px">1</span><span style="margin:0 0.70px">6</span><span style="margin:0 0.17px">5</span><span style="margin:0 -0.65px">,</span><span style="margin:0 -0.07px">3</span><span style="margin:0 -0.15px">1</span><span style="margin:0 -0.15px">1</span></div>
<div class="bar" style="left:464.44px;top:898.48px;width:1.00px;height:30.7px;background:#e2d6f5"></div>
<div class="a v" style="left:470.00px;top:904.93px"><span style="margin:0 -1.17px">7</span><span style="margin:0 0.70px">6</span><span style="margin:0 0.23px">2</span><span style="margin:0 -0.15px">1</span></div>
<div class="a v" style="left:610.04px;top:904.93px"><span style="margin:0 -0.15px">1</span><span style="margin:0 0.23px">2</span><span style="margin:0 0.70px">6</span><span style="margin:0 1.01px">0</span></div>
<div class="a v" style="left:751.26px;top:904.93px"><span style="margin:0 -0.15px">1</span><span style="margin:0 1.01px">0</span><span style="margin:0 0.70px">6</span><span style="margin:0 0.17px">5</span></div>
</body></html>
